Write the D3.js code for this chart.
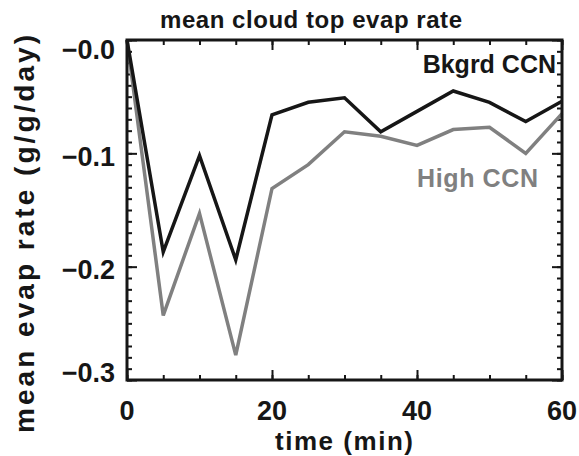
<!DOCTYPE html>
<html>
<head>
<meta charset="utf-8">
<script src="https://cdn.jsdelivr.net/npm/d3@7"></script>
<style>
  html, body { margin: 0; padding: 0; background: #fff; }
  svg { display: block; }
  text { font-family: "Liberation Sans", Arial, sans-serif; font-weight: bold; fill: #161616; }
</style>
</head>
<body>
<script>
// Time axis (minutes) and mean cloud-top evaporation rate (g/g/day)
const times = [0, 5, 10, 15, 20, 25, 30, 35, 40, 45, 50, 55, 60];
const bkgrdCCN = [0, -0.187, -0.102, -0.194, -0.066, -0.055, -0.051, -0.081, -0.063, -0.045, -0.055, -0.072, -0.054];
const highCCN  = [0, -0.243, -0.153, -0.278, -0.131, -0.110, -0.081, -0.085, -0.093, -0.079, -0.077, -0.100, -0.065];
const xTicks = [0, 20, 40, 60];
const yTicks = [0, -0.1, -0.2, -0.3];
const yTickLabels = ["\u22120.0", "\u22120.1", "\u22120.2", "\u22120.3"];

const W = 579, H = 456;
const margin = { left: 127, right: 17, top: 40, bottom: 76 };
const iw = W - margin.left - margin.right;
const ih = H - margin.top - margin.bottom;

const svg = d3.select("body").append("svg").attr("width", W).attr("height", H);
const g = svg.append("g").attr("transform", `translate(${margin.left},${margin.top})`);

const x = d3.scaleLinear().domain([0, 60]).range([0, iw]);
const y = d3.scaleLinear().domain([-0.3, 0]).range([ih, 0]);

const minorX = d3.range(0, 61, 5);
const minorY = d3.range(0, 31).map(i => -i / 100);

// inward ticks on all four sides
function ticks(axisFn, scale, vals, len, tr) {
  const a = g.append("g").attr("transform", tr)
    .call(axisFn(scale).tickValues(vals).tickSize(-len).tickFormat(""));
  a.select(".domain").remove();
  a.selectAll("line").attr("stroke", "#161616").attr("stroke-width", 2);
}
ticks(d3.axisBottom, x, minorX, 5, `translate(0,${ih})`);
ticks(d3.axisBottom, x, xTicks, 10, `translate(0,${ih})`);
ticks(d3.axisTop, x, minorX, 5, `translate(0,0)`);
ticks(d3.axisTop, x, xTicks, 10, `translate(0,0)`);
ticks(d3.axisLeft, y, minorY, 5, `translate(0,0)`);
ticks(d3.axisLeft, y, yTicks, 10, `translate(0,0)`);
ticks(d3.axisRight, y, minorY, 5, `translate(${iw},0)`);
ticks(d3.axisRight, y, yTicks, 10, `translate(${iw},0)`);

// tick labels (end labels nudged inward so they stay beside the frame)
g.append("g").selectAll("text").data(xTicks).join("text")
  .attr("x", d => x(d)).attr("y", ih + 40)
  .attr("text-anchor", "middle").style("font-size", "27px")
  .text(d => d);
const nudge = i => (i === 0 ? 9 : i === yTicks.length - 1 ? -8 : 3);
g.append("g").selectAll("text").data(yTicks).join("text")
  .attr("x", -12).attr("y", (d, i) => y(d) + nudge(i)).attr("dy", "0.36em")
  .attr("text-anchor", "end").style("font-size", "27px")
  .text((d, i) => yTickLabels[i]);

// series lines
const line = d3.line().x((d, i) => x(times[i])).y(d => y(d));
g.append("path").datum(highCCN).attr("d", line)
  .attr("fill", "none").attr("stroke", "#808080").attr("stroke-width", 3.5).attr("stroke-linejoin", "miter");
g.append("path").datum(bkgrdCCN).attr("d", line)
  .attr("fill", "none").attr("stroke", "#161616").attr("stroke-width", 3.5).attr("stroke-linejoin", "miter");

// frame
g.append("rect").attr("width", iw).attr("height", ih)
  .attr("fill", "none").attr("stroke", "#161616").attr("stroke-width", 3);

// series labels
g.append("text").attr("x", iw - 6).attr("y", 33).attr("text-anchor", "end")
  .style("font-size", "25px").text("Bkgrd CCN");
g.append("text").attr("x", 290).attr("y", 147).attr("text-anchor", "start")
  .style("font-size", "25px").style("fill", "#808080")
  .attr("textLength", 121).attr("lengthAdjust", "spacing").text("High CCN");

// titles
svg.append("text").attr("x", 311).attr("y", 28).attr("text-anchor", "middle")
  .style("font-size", "24px").attr("textLength", 302).attr("lengthAdjust", "spacing")
  .text("mean cloud top evap rate");
svg.append("text").attr("x", 344).attr("y", 450).attr("text-anchor", "middle")
  .style("font-size", "26px").attr("textLength", 138).attr("lengthAdjust", "spacing")
  .text("time (min)");
svg.append("text").attr("transform", `translate(34,234) rotate(-90)`).attr("text-anchor", "middle")
  .style("font-size", "28px").attr("textLength", 398).attr("lengthAdjust", "spacing")
  .text("mean evap rate (g/g/day)");
</script>
</body>
</html>
